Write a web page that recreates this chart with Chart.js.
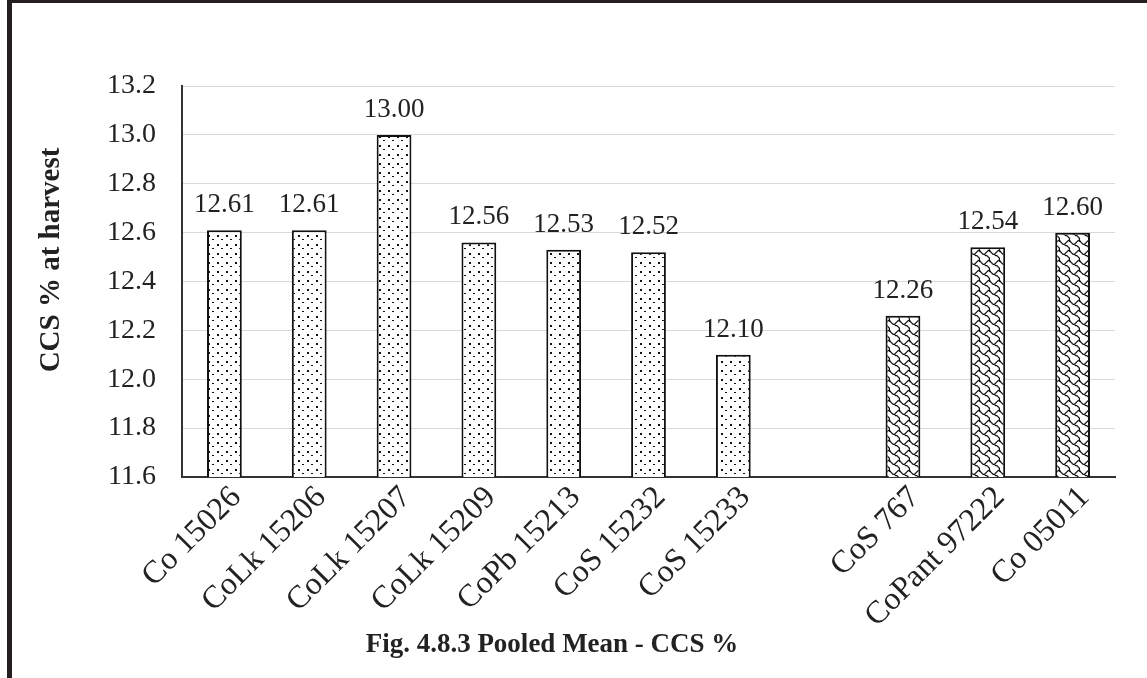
<!DOCTYPE html>
<html>
<head>
<meta charset="utf-8">
<script src="https://cdn.jsdelivr.net/npm/chart.js@4"></script>
<style>
  html, body { margin: 0; padding: 0; background: #fff; }
  #wrap { position: relative; width: 1147px; height: 678px; overflow: hidden; }
  #frameTop { position: absolute; left: 7px; top: 0; width: 1140px; height: 3px; background: #231f20; }
  #frameLeft { position: absolute; left: 7px; top: 0; width: 5px; height: 678px; background: #231f20; }
  canvas { position: absolute; left: 0; top: 0; }
</style>
</head>
<body>
<div id="wrap">
  <canvas id="ccs-chart" width="1147" height="678"></canvas>
  <div id="frameTop"></div>
  <div id="frameLeft"></div>
</div>
<script>
// Pooled mean CCS % per variety (blank slot separates the checks)
const varieties = ['Co 15026', 'CoLk 15206', 'CoLk 15207', 'CoLk 15209', 'CoPb 15213', 'CoS 15232', 'CoS 15233', '', 'CoS 767', 'CoPant 97222', 'Co 05011'];
const ccsValues = [12.61, 12.61, 13.00, 12.56, 12.53, 12.52, 12.10, null, 12.26, 12.54, 12.60];
const ccsLabels = ['12.61', '12.61', '13.00', '12.56', '12.53', '12.52', '12.10', '', '12.26', '12.54', '12.60'];
const isCheck = [false, false, false, false, false, false, false, false, true, true, true];
const yTicks = { min: 11.6, max: 13.2, step: 0.2 };

const serif = '"Liberation Serif", "Times New Roman", serif';

// dotted fill for the entries
function dotPattern() {
  const c = document.createElement('canvas');
  c.width = 9; c.height = 9;
  const g = c.getContext('2d');
  g.fillStyle = '#fff';
  g.fillRect(0, 0, 9, 9);
  g.fillStyle = '#111';
  g.fillRect(1, 1, 2, 2);
  g.fillRect(5, 5, 2, 1);
  return g.createPattern(c, 'repeat');
}

// shingle fill for the checks: one scale arc plus its tail per tile
function shinglePattern() {
  const k = 1.25, size = 10;
  const arc = [[-0.5, 0.5], [0.5, 1.5], [1.5, 2.5], [2.5, 3.5], [3.5, 3.5], [4.5, 2.5], [5.5, 1.5], [6.5, 0.5], [7.5, 0.5], [8.5, 1.5]];
  const tail = [[3.5, 3.5], [4.5, 4.5], [5.5, 4.5], [6.5, 5.5], [7.5, 6.5], [7.5, 8.5]];
  const c = document.createElement('canvas');
  c.width = size; c.height = size;
  const g = c.getContext('2d');
  g.fillStyle = '#fff';
  g.fillRect(0, 0, size, size);
  g.strokeStyle = '#111';
  g.lineWidth = 1.3;
  g.lineJoin = 'round';
  for (let dx = -size; dx <= size; dx += size) {
    for (let dy = -size; dy <= size; dy += size) {
      [arc, tail].forEach(pts => {
        g.beginPath();
        pts.forEach(([x, y], i) => {
          const px = x * k + dx, py = y * k + dy;
          if (i === 0) g.moveTo(px, py); else g.lineTo(px, py);
        });
        g.stroke();
      });
    }
  }
  return g.createPattern(c, 'repeat');
}

const ctx = document.getElementById('ccs-chart');
const dots = dotPattern();
const shingle = shinglePattern();

// value labels above bars, y-axis title and figure caption
const textPlugin = {
  id: 'ccsText',
  afterDatasetsDraw(chart) {
    const g = chart.ctx;
    const meta = chart.getDatasetMeta(0);
    g.save();
    g.fillStyle = '#222';
    g.font = '27px ' + serif;
    g.textAlign = 'center';
    g.textBaseline = 'alphabetic';
    meta.data.forEach((bar, i) => {
      if (ccsValues[i] === null) return;
      g.fillText(ccsLabels[i], bar.x, bar.y - 18);
    });
    g.restore();
  },
  afterDraw(chart) {
    const g = chart.ctx;
    g.save();
    g.fillStyle = '#222';
    g.font = 'bold 29px ' + serif;
    g.textAlign = 'center';
    g.textBaseline = 'middle';
    g.translate(52, 260);
    g.rotate(-Math.PI / 2);
    g.fillText('CCS % at harvest', 0, 0);
    g.restore();

    g.save();
    g.fillStyle = '#222';
    g.font = 'bold 27px ' + serif;
    g.textAlign = 'center';
    g.textBaseline = 'alphabetic';
    g.fillText('Fig. 4.8.3 Pooled Mean - CCS %', 552, 652);
    g.restore();
  }
};

new Chart(ctx, {
  type: 'bar',
  data: {
    labels: varieties,
    datasets: [{
      data: ccsValues,
      backgroundColor: isCheck.map(c => c ? shingle : dots),
      borderColor: '#111',
      borderWidth: 2,
      borderSkipped: false,
      barPercentage: 0.41,
      categoryPercentage: 1.0
    }]
  },
  options: {
    responsive: false,
    animation: false,
    devicePixelRatio: 1,
    layout: { padding: { top: 86, right: 32, left: 0, bottom: 0 } },
    plugins: {
      legend: { display: false },
      tooltip: { enabled: false }
    },
    scales: {
      x: {
        grid: { display: false, drawTicks: false },
        border: { display: true, color: '#333', width: 2 },
        ticks: {
          color: '#222',
          font: { family: serif, size: 32 },
          minRotation: 45,
          maxRotation: 45,
          padding: 2,
          labelOffset: 12,
          autoSkip: false
        },
        afterFit(scale) { scale.height = 201; }
      },
      y: {
        min: yTicks.min,
        max: yTicks.max,
        grid: { color: '#d9d9d9', lineWidth: 1, drawTicks: false },
        border: { display: true, color: '#333', width: 2 },
        ticks: {
          stepSize: yTicks.step,
          color: '#222',
          font: { family: serif, size: 28 },
          padding: 26,
          callback: v => v.toFixed(1)
        },
        afterFit(scale) { scale.width = 182; }
      }
    }
  },
  plugins: [textPlugin]
});
</script>
</body>
</html>
